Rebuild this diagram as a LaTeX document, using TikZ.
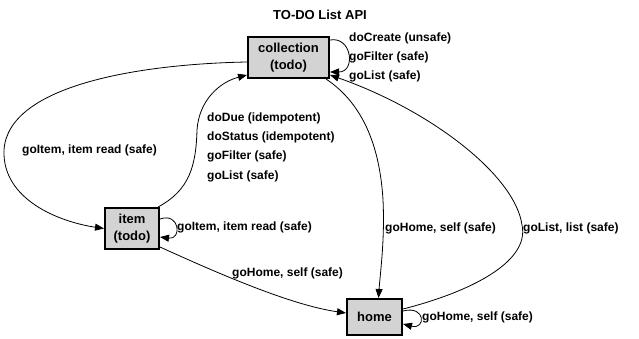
\documentclass[tikz,border=0pt]{standalone}
\usepackage{fontspec}
\setmainfont{Liberation Sans}
\usetikzlibrary{arrows.meta}
\definecolor{boxfill}{HTML}{D3D3D3}
\tikzset{
  state/.style={draw=black, line width=2pt, fill=boxfill, inner sep=0pt,
    align=center, font=\fontsize{13}{16.5}\selectfont\bfseries},
  link/.style={draw=black, line width=0.8pt, -{Triangle[length=9pt,width=7pt]}},
  lbl/.style={anchor=west, inner sep=0pt, align=left,
    font=\fontsize{12}{19.3}\selectfont\bfseries},
  heading/.style={inner sep=0pt, font=\fontsize{13}{15}\selectfont\bfseries}
}
\begin{document}
\begin{tikzpicture}[x=1pt, y=-1pt]
\useasboundingbox (0,0) rectangle (639,339);
\fill[white] (0,0) rectangle (639,339);

% title
\node[heading] (title) at (320,15) {TO-DO List API};

% states
\node[state, minimum width=81pt, minimum height=41pt] (collection) at (288.5,57.5) {collection\\(todo)};
\node[state, minimum width=54pt, minimum height=41pt] (item) at (132,228.5) {item\\(todo)};
\node[state, minimum width=55pt, minimum height=36pt] (home) at (374.5,317) {home};

% collection -> item
\draw[link] ([yshift=-4.5pt]collection.west)
  .. controls (140,64) and (8,85) .. (4,150)
  .. controls (2,200) and (60,222) .. (item.west);
\node[lbl] (lblgoitem) at (22,150) {goItem, item read (safe)};

% item -> collection
\draw[link] ([xshift=-2pt]item.north east)
  .. controls (190,190) and (196,165) .. (197,130)
  .. controls (199,100) and (220,82) .. ([yshift=4pt]collection.south west);
\node[lbl] (lbltransitions) at (207,147) {doDue (idempotent)\\doStatus (idempotent)\\goFilter (safe)\\goList (safe)};

% collection self loop
\draw[link] ([yshift=-4pt]collection.north east)
  .. controls (352,36) and (356,72) .. ([yshift=7pt]collection.south east);
\node[lbl] (lblcollself) at (349,57.5) {doCreate (unsafe)\\goFilter (safe)\\goList (safe)};

% collection -> home
\draw[link] ([xshift=-4pt]collection.south east)
  .. controls (365,105) and (380,150) .. (383,200)
  .. controls (385,240) and (380,275) .. ([xshift=4pt]home.north);
\node[lbl] (lblcollhome) at (385,228) {goHome, self (safe)};

% home -> collection
\draw[link] ([yshift=8pt]home.east)
  .. controls (470,292) and (530,262) .. (522,225)
  .. controls (515,175) and (430,110) .. ([yshift=4pt]collection.south east);
\node[lbl] (lblhomecoll) at (523,228) {goList, list (safe)};

% item self loop
\draw[link] ([yshift=-12pt]item.north east)
  .. controls (180,212) and (182,240) .. ([yshift=13pt]item.south east);
\node[lbl] (lblitemself) at (177,227) {goItem, item read (safe)};

% item -> home
\draw[link] ([yshift=3pt]item.south east)
  .. controls (215,272) and (290,305) .. ([yshift=4pt]home.west);
\node[lbl] (lblitemhome) at (232,273) {goHome, self (safe)};

% home self loop
\draw[link] ([yshift=6pt]home.east)
  .. controls (426,305) and (426,330) .. ([yshift=-7pt]home.east);
\node[lbl] (lblhomeself) at (422,317) {goHome, self (safe)};
\end{tikzpicture}
\end{document}
